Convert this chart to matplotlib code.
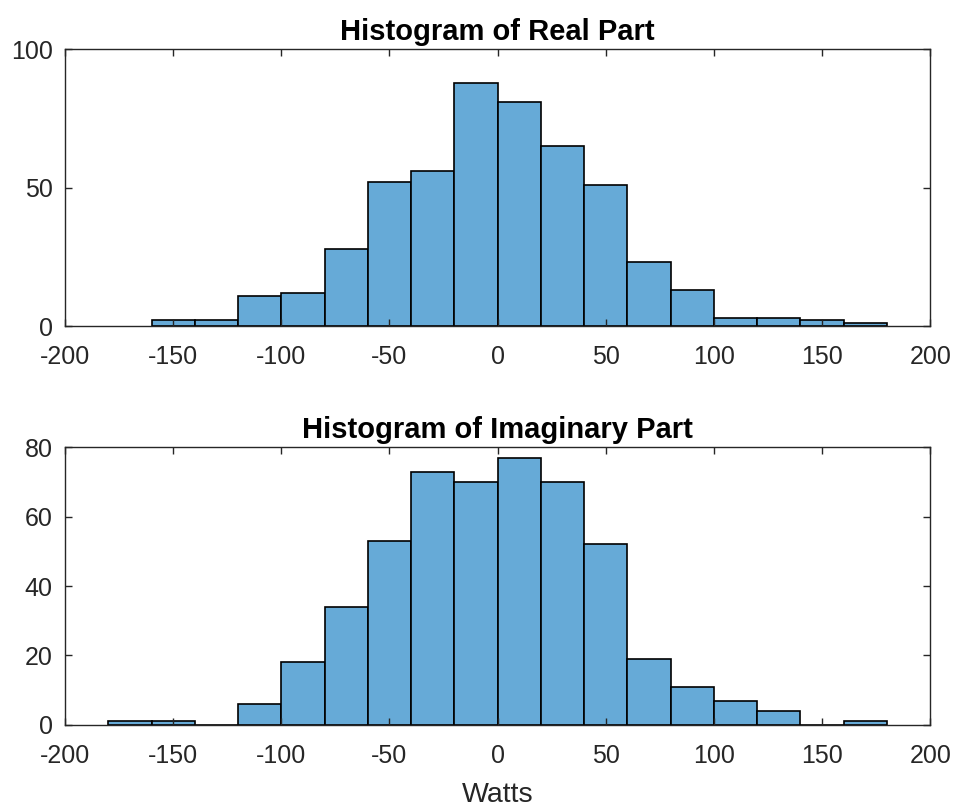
import numpy as np
import matplotlib
matplotlib.use('Agg')
import matplotlib.pyplot as plt

plt.rcParams['font.family'] = ['Liberation Sans', 'DejaVu Sans']
plt.rcParams['axes.unicode_minus'] = False

# bin edges (Watts) and counts
real_edges = np.arange(-160, 181, 20)
real_counts = [2, 2, 11, 12, 28, 52, 56, 88, 81, 65, 51, 23, 13, 3, 3, 2, 1]

imag_edges = np.arange(-180, 181, 20)
imag_counts = [1, 1, 0, 6, 18, 34, 53, 73, 70, 77, 70, 52, 19, 11, 7, 4, 0, 1]

face = '#66AAD7'
dark = '#262626'

fig = plt.figure(figsize=(9.56, 8.09), dpi=100)
ax1 = fig.add_axes([0.068, 0.597, 0.905, 0.342])
ax2 = fig.add_axes([0.068, 0.104, 0.905, 0.343])


def draw(ax, edges, counts, title, ymax, yticks):
    ax.bar(edges[:-1], counts, width=np.diff(edges), align='edge',
           color=face, edgecolor='black', linewidth=1.2)
    ax.set_xlim(-200, 200)
    ax.set_ylim(0, ymax)
    ax.set_xticks(np.arange(-200, 201, 50))
    ax.set_yticks(yticks)
    ax.tick_params(direction='in', top=True, right=True, length=5,
                   width=1, colors=dark, labelsize=18)
    ax.tick_params(axis='x', pad=14)
    ax.tick_params(axis='y', pad=9)
    for sp in ax.spines.values():
        sp.set_color(dark)
        sp.set_linewidth(1)
    ax.set_title(title, fontsize=21, fontweight='bold', color='black', pad=6.5)


draw(ax1, real_edges, real_counts, 'Histogram of Real Part', 100, [0, 50, 100])
draw(ax2, imag_edges, imag_counts, 'Histogram of Imaginary Part', 80, [0, 20, 40, 60, 80])
ax2.set_xlabel('Watts', fontsize=20.5, color=dark, labelpad=10)

fig.savefig('out.png', dpi=100)
